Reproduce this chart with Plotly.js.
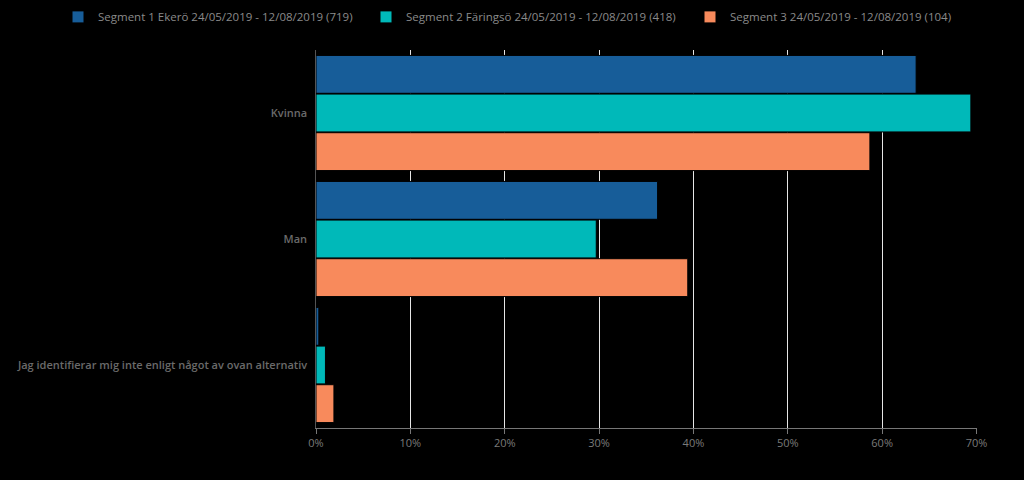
<!DOCTYPE html>
<html><head><meta charset="utf-8">
<script src="https://cdn.plot.ly/plotly-3.0.1.min.js"></script>
<style>html,body{margin:0;padding:0;background:#000;}#c{width:1024px;height:480px;}</style>
</head><body><div id="c"></div>
<script>
var categories = ["Kvinna", "Man", "Jag identifierar mig inte enligt något av ovan alternativ"];
var seriesNames = [
  "Segment 1 Ekerö 24/05/2019 - 12/08/2019 (719)",
  "Segment 2 Färingsö 24/05/2019 - 12/08/2019 (418)",
  "Segment 3 24/05/2019 - 12/08/2019 (104)"
];
var seg1 = [63.6, 36.2, 0.3];
var seg2 = [69.4, 29.7, 1.0];
var seg3 = [58.7, 39.4, 1.9];
var colors = ["#175d99", "#00b9b9", "#f88a5c"];
var tickVals = [0, 10, 20, 30, 40, 50, 60, 70];
var tickText = ["0%", "10%", "20%", "30%", "40%", "50%", "60%", "70%"];

var all = [seg1, seg2, seg3];
var legendIds = ["legend", "legend2", "legend3"];
var traces = all.map(function (vals, i) {
  return {
    type: "bar", orientation: "h",
    x: vals, y: categories, name: seriesNames[i],
    legend: legendIds[i],
    marker: {color: colors[i], line: {color: "#000", width: 1}},
    hoverinfo: "x+name"
  };
});

function leg(xpx) {
  return {orientation: "h", x: xpx / 1024, xanchor: "left", xref: "container",
    y: 0.995, yanchor: "top", yref: "container",
    font: {size: 11.5, color: "#8a8a8a"}, itemwidth: 30, bgcolor: "rgba(0,0,0,0)"};
}

var layout = {
  width: 1024, height: 480,
  paper_bgcolor: "#000", plot_bgcolor: "#000",
  font: {family: "Open Sans, sans-serif", color: "#8a8a8a", size: 11},
  margin: {l: 316, r: 47, t: 50, b: 52, autoexpand: false},
  barmode: "group", bargap: 0.08, bargroupgap: 0.02,
  showlegend: true,
  legend: leg(58),
  legend2: leg(366),
  legend3: leg(690),
  xaxis: {range: [0, 70.05], tickvals: tickVals, ticktext: tickText,
    showgrid: true, gridcolor: "#e6e6e6", gridwidth: 1,
    showline: true, linecolor: "#777", ticks: "outside", tickcolor: "#777", ticklen: 5,
    zeroline: false, tickfont: {color: "#7a7a7a", size: 11}},
  yaxis: {autorange: "reversed", showline: true, linecolor: "#555", ticks: "",
    showgrid: false, ticksuffix: "  ", tickfont: {color: "#6a6a6a", size: 11, weight: 600}}
};
Plotly.newPlot("c", traces, layout, {displayModeBar: false, staticPlot: true});
</script></body></html>
